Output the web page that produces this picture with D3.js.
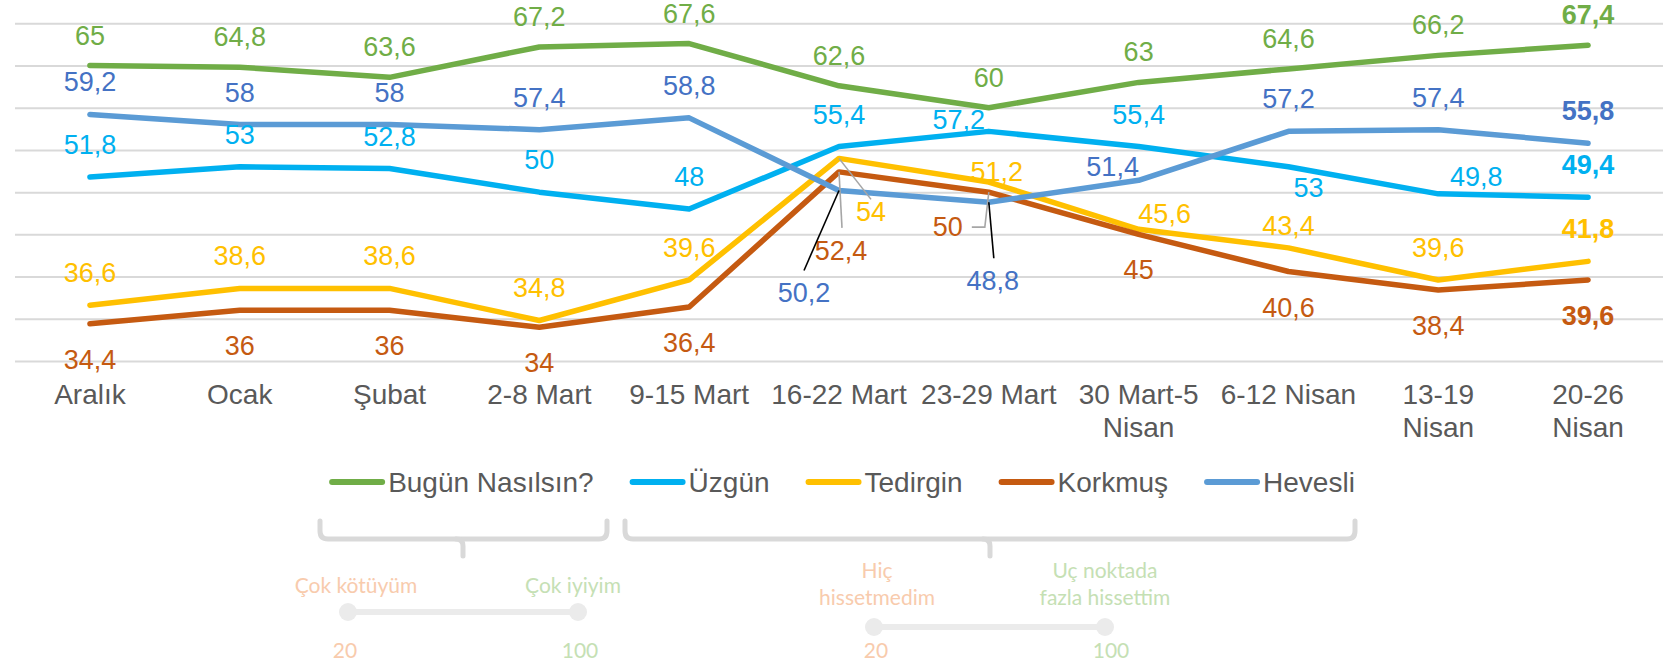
<!DOCTYPE html>
<html>
<head>
<meta charset="utf-8">
<script src="https://cdn.jsdelivr.net/npm/d3@7"></script>
<style>
  body { margin: 0; background: #fff; }
  svg { display: block; font-family: "Liberation Sans", Arial, sans-serif; }
</style>
</head>
<body>
<script>
// categories and values
const categories = ["Aralık", "Ocak", "Şubat", "2-8 Mart", "9-15 Mart", "16-22 Mart", "23-29 Mart", "30 Mart-5 Nisan", "6-12 Nisan", "13-19 Nisan", "20-26 Nisan"];
const categoryLines = [["Aralık"], ["Ocak"], ["Şubat"], ["2-8 Mart"], ["9-15 Mart"], ["16-22 Mart"], ["23-29 Mart"], ["30 Mart-5", "Nisan"], ["6-12 Nisan"], ["13-19", "Nisan"], ["20-26", "Nisan"]];
const seriesNames = ["Bugün Nasılsın?", "Üzgün", "Tedirgin", "Korkmuş", "Hevesli"];
const bugun = [65, 64.8, 63.6, 67.2, 67.6, 62.6, 60, 63, 64.6, 66.2, 67.4];
const uzgun = [51.8, 53, 52.8, 50, 48, 55.4, 57.2, 55.4, 53, 49.8, 49.4];
const tedirgin = [36.6, 38.6, 38.6, 34.8, 39.6, 54, 51.2, 45.6, 43.4, 39.6, 41.8];
const korkmus = [34.4, 36, 36, 34, 36.4, 52.4, 50, 45, 40.6, 38.4, 39.6];
const hevesli = [59.2, 58, 58, 57.4, 58.8, 50.2, 48.8, 51.4, 57.2, 57.4, 55.8];
const yTicks = [30, 35, 40, 45, 50, 55, 60, 65, 70];

const W = 1665, H = 662;
const lineColors = ["#70ad47", "#00b0f0", "#ffc000", "#c55a11", "#5b9bd5"];
const labelColors = ["#70ad47", "#00b0f0", "#ffc000", "#c55a11", "#4472c4"];

// label placement: default above (or below for Korkmuş), a few moved by hand like in the original
const placement = {
  1: { 6: [-30, -2], 8: [20, 30], 9: [38, -8] },
  2: { 5: [32, 63, [32, 41], "#a6a6a6"], 6: [8, -1], 7: [26, -6], 8: [0, -13] },
  3: { 5: [2, 88, [3, 56], "#a6a6a6"], 6: [-41, 44, [-4, 35, -17, 35], "#a6a6a6"] },
  4: { 5: [-35, 112, [-35, 80], "#000"], 6: [4, 88, [5, 56], "#000"], 7: [-26, -4] }
};

const svg = d3.select("body").append("svg")
  .attr("width", W)
  .attr("height", H);

const x = d3.scaleBand().domain(categories).range([15, 1663]).padding(0);
const cx = c => x(c) + x.bandwidth() / 2;
const y = d3.scaleLinear().domain([30, 70]).range([361, 23.3]);

// gridlines
const grid = svg.append("g")
  .attr("transform", "translate(15,0)")
  .call(d3.axisLeft(y).tickValues(yTicks).tickSize(-1648).tickFormat(""));
grid.select(".domain").remove();
grid.selectAll("line").attr("stroke", "#d9d9d9").attr("stroke-width", 2);

// x axis labels
const xAxis = svg.append("g")
  .attr("transform", "translate(0,361)")
  .call(d3.axisBottom(x).tickSize(0).tickFormat(""));
xAxis.select(".domain").remove();
xAxis.selectAll(".tick").each(function(d, i) {
  const t = d3.select(this).append("text")
    .attr("fill", "#595959")
    .attr("font-size", 28)
    .attr("text-anchor", "middle");
  categoryLines[i].forEach((s, k) => {
    t.append("tspan").attr("x", 0).attr("y", 43 + k * 33).text(s);
  });
});

const allSeries = [bugun, uzgun, tedirgin, korkmus, hevesli];

const line = d3.line()
  .x((d, i) => cx(categories[i]))
  .y(d => y(d));

svg.selectAll(".series")
  .data(allSeries)
  .enter().append("path")
  .attr("class", "series")
  .attr("d", d => line(d))
  .attr("fill", "none")
  .attr("stroke", (d, i) => lineColors[i])
  .attr("stroke-width", 5.5)
  .attr("stroke-linecap", "round")
  .attr("stroke-linejoin", "round");

// data labels + leader lines
allSeries.forEach((vals, s) => {
  vals.forEach((v, i) => {
    const px = cx(categories[i]), py = y(v);
    let dx = 0, dy = s === 3 ? 45 : (s === 0 ? -21 : -23);
    const p = placement[s] && placement[s][i];
    if (p) {
      dx = p[0]; dy = p[1];
      if (p[2]) {
        const pts = [[px, py]];
        for (let k = 0; k < p[2].length; k += 2) pts.push([px + p[2][k], py + p[2][k + 1]]);
        svg.append("path")
          .attr("d", d3.line()(pts))
          .attr("fill", "none")
          .attr("stroke", p[3])
          .attr("stroke-width", 1.6);
      }
    }
    svg.append("text")
      .attr("x", px + dx)
      .attr("y", py + dy)
      .attr("text-anchor", "middle")
      .attr("font-size", 27)
      .attr("font-weight", i === vals.length - 1 ? "bold" : "normal")
      .attr("fill", labelColors[s])
      .text(String(v).replace(".", ","));
  });
});

// legend
const legend = svg.append("g");
let lx = 0;
seriesNames.forEach((name, i) => {
  const g = legend.append("g").attr("transform", `translate(${lx},0)`);
  g.append("line")
    .attr("x1", 3).attr("x2", 53)
    .attr("y1", 482).attr("y2", 482)
    .attr("stroke", lineColors[i])
    .attr("stroke-width", 6)
    .attr("stroke-linecap", "round");
  const t = g.append("text")
    .attr("x", 59).attr("y", 492)
    .attr("font-size", 28)
    .attr("fill", "#595959")
    .text(name);
  lx += 59 + t.node().getComputedTextLength() + 36;
});
legend.attr("transform", `translate(${842 - (lx - 36) / 2},0)`);

// bottom explanation: brackets and scales
const bracketColor = "#d9d9d9";
function bracket(x0, x1, xc) {
  const top = 521, h = 539, tip = 556, r = 8;
  svg.append("path")
    .attr("d", `M${x0},${top} V${h - r} Q${x0},${h} ${x0 + r},${h} H${x1 - r} Q${x1},${h} ${x1},${h - r} V${top}`)
    .attr("fill", "none").attr("stroke", bracketColor).attr("stroke-width", 5).attr("stroke-linecap", "round");
  svg.append("path")
    .attr("d", `M${xc - 7},${h} Q${xc},${h} ${xc},${h + 7} V${tip}`)
    .attr("fill", "none").attr("stroke", bracketColor).attr("stroke-width", 5).attr("stroke-linecap", "round");
}
bracket(320, 607, 463);
bracket(625, 1355, 990);

const peach = "#f8cbad", lightGreen = "#c5e0b4", sliderColor = "#ebebeb";
function slider(x0, x1, yy) {
  svg.append("line").attr("x1", x0).attr("x2", x1).attr("y1", yy).attr("y2", yy)
    .attr("stroke", sliderColor).attr("stroke-width", 6);
  [x0, x1].forEach(xx => svg.append("circle").attr("cx", xx).attr("cy", yy).attr("r", 9).attr("fill", sliderColor));
}
function note(lines, xx, yy, color) {
  const t = svg.append("text")
    .attr("text-anchor", "middle")
    .attr("font-family", "Lato, 'Open Sans', sans-serif")
    .attr("font-size", 21)
    .attr("fill", color);
  lines.forEach((s, k) => t.append("tspan").attr("x", xx).attr("y", yy + k * 27).text(s));
}
slider(348, 578, 612);
note(["Çok kötüyüm"], 356, 593, peach);
note(["Çok iyiyim"], 573, 593, lightGreen);
note(["20"], 345, 658, peach);
note(["100"], 580, 658, lightGreen);

slider(874, 1105, 627);
note(["Hiç", "hissetmedim"], 877, 578, peach);
note(["Uç noktada", "fazla hissettim"], 1105, 578, lightGreen);
note(["20"], 876, 658, peach);
note(["100"], 1111, 658, lightGreen);
</script>
</body>
</html>
